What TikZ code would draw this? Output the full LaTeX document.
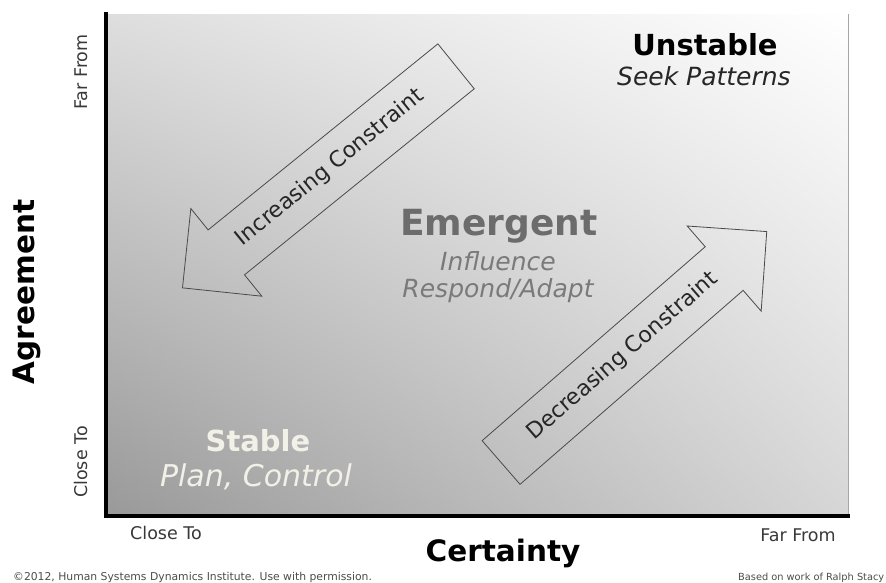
\documentclass[tikz,border=0pt]{standalone}
\usepackage{fontspec}
\setmainfont{DejaVu Sans}
\usepackage{xcolor}
\usetikzlibrary{positioning,shapes.arrows,shadings}

\definecolor{ticktext}{HTML}{383838}
\definecolor{arrowline}{HTML}{4A4A4A}
\definecolor{midtext}{HTML}{6C6C6C}
\definecolor{midhint}{HTML}{7A7A7A}
\definecolor{lowtext}{HTML}{F2F1E8}

\begin{document}
\begin{tikzpicture}[x=1pt, y=-1pt,
		tick/.style={font=\fontsize{17.5}{17.5}\selectfont, text=ticktext, inner sep=0pt},
		axisname/.style={font=\fontsize{29.5}{29.5}\selectfont\bfseries, inner sep=0pt},
		zone/.style={font=\fontsize{29}{29}\selectfont\bfseries, inner sep=0pt, anchor=base},
		hint/.style={font=\fontsize{25}{25}\selectfont\itshape, inner sep=0pt, anchor=base},
		trend/.style={single arrow, draw=arrowline, line width=0.8pt, shape border rotate=#1,
			single arrow head extend=27.5pt, text height=16pt, text depth=5pt,
			inner ysep=18pt, inner xsep=0pt, minimum height=352pt,
			font=\fontsize{22}{22}\selectfont, text=black!85}]
	\useasboundingbox (0,0) rectangle (886,582);

	% quadrant field, dark towards the origin
	\shade[lower left=black!40, upper left=black!13, upper right=white, lower right=black!16]
		(107,14) rectangle (848,516);
	\draw[black!35, line width=1pt] (848,14) -- (848,516);

	% axes
	\coordinate (top) at (106,12);
	\coordinate (origin) at (106,516);
	\coordinate (right) at (850,516);
	\draw[line width=3.5pt] (top) -- (origin) -- (right);

	\node[tick, rotate=90] (yfar) at (81,72) {Far From};
	\node[tick, rotate=90] (yclose) at (81,462) {Close To};
	\node[tick] (xclose) at (166,533) {Close To};
	\node[tick] (xfar) at (798,535) {Far From};
	\node[axisname, rotate=90] (agree) at (27,292) {Agreement};
	\node[axisname, anchor=base] (cert) at (503,561) {Certainty};

	% the three zones
	\node[zone] (unstable) at (705,55) {Unstable};
	\node[hint, text=black!85] (seek) at (704,85) {Seek Patterns};
	\node[zone, font=\fontsize{36}{36}\selectfont\bfseries, text=midtext] (emergent) at (499,235) {Emergent};
	\node[hint, text=midhint] (influence) at (498,270) {Influence};
	\node[hint, text=midhint] (respond) at (498,297) {Respond/Adapt};
	\node[zone, text=lowtext] (stable) at (258,451) {Stable};
	\node[hint, font=\fontsize{30}{30}\selectfont\itshape, text=lowtext] (plan) at (256,486) {Plan, Control};

	% constraint arrows
	\node[trend=180, rotate=39] (increase) at (330.5,168) {Increasing Constraint};
	\node[trend=0, rotate=41] (decrease) at (623,356.5) {Decreasing Constraint};

	% footer
	\node[anchor=base west, inner sep=0pt, font=\fontsize{10.8}{10.8}\selectfont, text=black!70] (copy) at (13,580)
		{\textcopyright2012, Human Systems Dynamics Institute. Use with permission.};
	\node[anchor=base west, inner sep=0pt, font=\fontsize{9.8}{9.8}\selectfont, text=black!70] (basis) at (738,580)
		{Based on work of Ralph Stacy};
\end{tikzpicture}
\end{document}
